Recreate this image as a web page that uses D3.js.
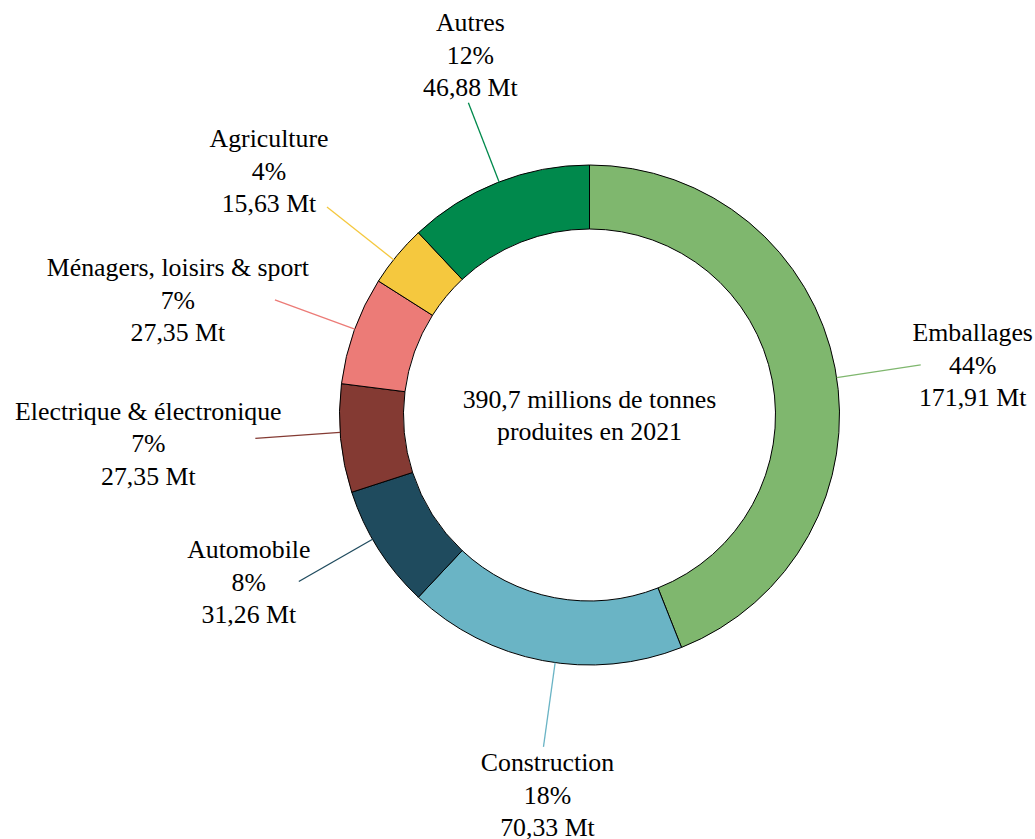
<!DOCTYPE html>
<html>
<head>
<meta charset="utf-8">
<script src="https://cdn.jsdelivr.net/npm/d3@7"></script>
<style>
html,body{margin:0;padding:0;background:#fff;}
</style>
</head>
<body>
<svg id="chart" width="1035" height="839"></svg>
<script>
// ---- data ----
const categories = ["Emballages","Construction","Automobile","Electrique & électronique","Ménagers, loisirs & sport","Agriculture","Autres"];
const values = [171.91, 70.33, 31.26, 27.35, 27.35, 15.63, 46.88];
const colors = ["#7fb76e","#6ab4c5","#1f4b5e","#843a33","#ec7b77","#f5c83e","#00894c"];
const centerLines = ["390,7 millions de tonnes","produites en 2021"];

// ---- label layout (angle nudge in degrees, block offset from anchor) ----
const labelNudge = [2.2, -2.9, 2.6, 1.4, 0.3, -1.2, 0.4];
const labelDx = [52, 4, -50, -107, -97, -58, 2];
const labelDy = [0, 48, 0, 5, 0, -36, -48];

const FONT = "'Liberation Serif', 'Times New Roman', Times, serif";
const FS = 25.8;

const cx = 589.5, cy = 415;
const outerR = 250, innerR = 186, labelR = 335, lineH = 32.5;

const svg = d3.select("#chart");
const g = svg.append("g").attr("transform", `translate(${cx},${cy})`);

const data = categories.map((c, i) => ({name: c, value: values[i], color: colors[i], i}));
const total = d3.sum(values);
const pie = d3.pie().value(d => d.value).sort(null);
const arc = d3.arc().innerRadius(innerR).outerRadius(outerR);
const arcs = pie(data);

g.selectAll("path.slice").data(arcs).join("path")
  .attr("class", "slice")
  .attr("d", arc)
  .attr("fill", d => d.data.color)
  .attr("stroke", "#000")
  .attr("stroke-width", 1);

const loc = d3.formatLocale({decimal: ",", thousands: " ", grouping: [3], currency: ["", "€"]});
const fmtVal = loc.format(".2f");
const fmtPct = d => Math.round(d * 100) + "%";

arcs.forEach(a => {
  const i = a.data.i;
  const ang = (a.startAngle + a.endAngle) / 2 + labelNudge[i] * Math.PI / 180;
  const sx = outerR * Math.sin(ang), sy = -outerR * Math.cos(ang);
  const ex = labelR * Math.sin(ang), ey = -labelR * Math.cos(ang);
  g.append("line")
    .attr("x1", sx).attr("y1", sy).attr("x2", ex).attr("y2", ey)
    .attr("stroke", a.data.color).attr("stroke-width", 1.3);
  const lines = [a.data.name, fmtPct(a.data.value / total), fmtVal(a.data.value) + " Mt"];
  const bx = ex + labelDx[i], by = ey + labelDy[i];
  const t = g.append("text").attr("text-anchor", "middle")
    .attr("font-family", FONT).attr("font-size", FS).attr("fill", "#000");
  lines.forEach((l, k) => {
    t.append("tspan").attr("x", bx).attr("y", by + (k - 1) * lineH).attr("dy", "0.35em").text(l);
  });
});

const ct = g.append("text").attr("text-anchor", "middle")
  .attr("font-family", FONT).attr("font-size", FS).attr("fill", "#000");
centerLines.forEach((l, k) => {
  ct.append("tspan").attr("x", 0).attr("y", (k - 0.5) * lineH).attr("dy", "0.35em").text(l);
});
</script>
</body>
</html>
